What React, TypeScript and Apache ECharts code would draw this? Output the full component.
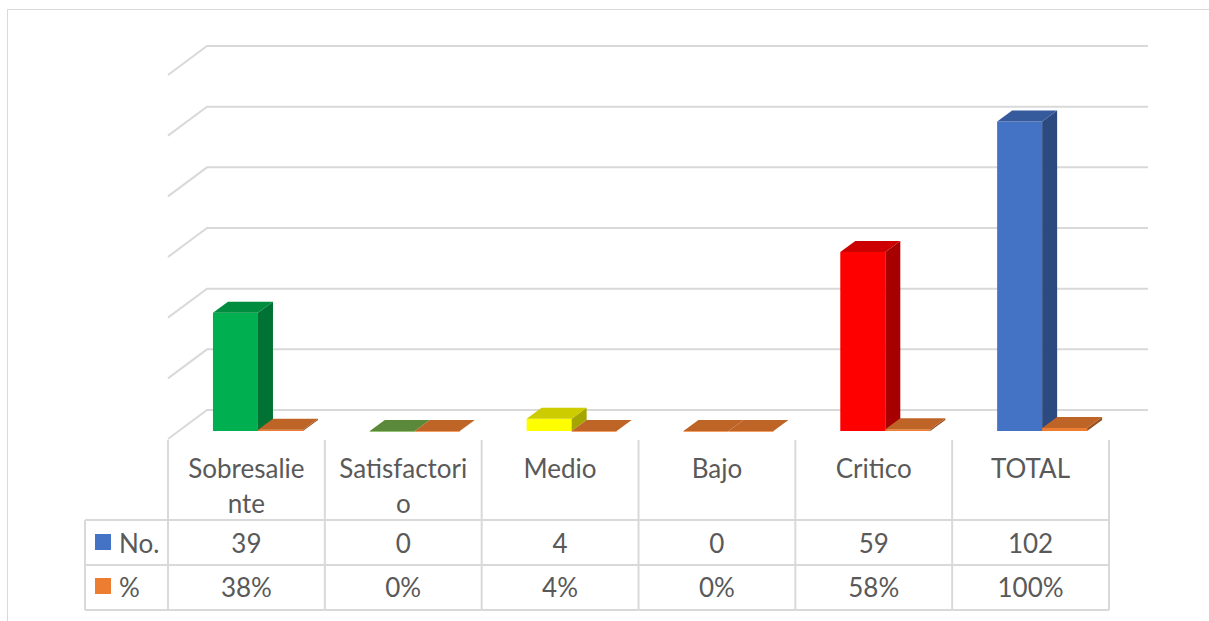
import React, { useEffect, useRef } from "react";
import * as echarts from "echarts";

const categories = ["Sobresaliente", "Satisfactorio", "Medio", "Bajo", "Critico", "TOTAL"];
const headerLabels = ["Sobresalie\nnte", "Satisfactori\no", "Medio", "Bajo", "Critico", "TOTAL"];
const countValues = [39, 0, 4, 0, 59, 102];
const pctValues = [0.38, 0, 0.04, 0, 0.58, 1.0];
const countColors = ["#00B050", "#70AD47", "#FFFF00", "#ED7D31", "#FF0000", "#4472C4"];
const pctColor = "#ED7D31";
const seriesNames = ["No.", "%"];
const legendColors = ["#4472C4", "#ED7D31"];
const yTicks = [0, 20, 40, 60, 80, 100, 120];

const GRID_COLOR = "#D9D9D9";
const TEXT_COLOR = "#595959";
const FONT = "Lato, 'Open Sans', sans-serif";
const FONT_SIZE = 26;
const DEPTH_X = 39;
const DEPTH_Y = 29;

function shade(hex: string, f: number): string {
  const n = parseInt(hex.slice(1), 16);
  const r = Math.round(((n >> 16) & 255) * f);
  const g = Math.round(((n >> 8) & 255) * f);
  const b = Math.round((n & 255) * f);
  return `rgb(${r},${g},${b})`;
}

function makeBarRender(colors: string[], slot: number) {
  return (params: any, api: any) => {
    const i = api.value(0);
    const v = api.value(1);
    const top = api.coord([i, v]);
    const base = api.coord([i, 0]);
    const band = api.size([1, 0])[0];
    const w = band * 0.287;
    const x0 = top[0] - band * 0.462 + slot * w;
    const x1 = x0 + w;
    const y0 = top[1] + 21;
    const yb = base[1] + 21;
    const dx = 15;
    const dy = -11;
    const color = colors[params.dataIndex];
    return {
      type: "group",
      children: [
        {
          type: "rect",
          shape: { x: x0, y: y0, width: w, height: Math.max(yb - y0, 0.8) },
          style: { fill: color },
        },
        {
          type: "polygon",
          shape: { points: [[x1, y0], [x1 + dx, y0 + dy], [x1 + dx, yb + dy], [x1, yb]] },
          style: { fill: shade(color, 0.65) },
        },
        {
          type: "polygon",
          shape: { points: [[x0, y0], [x0 + dx, y0 + dy], [x1 + dx, y0 + dy], [x1, y0]] },
          style: { fill: shade(color, 0.8) },
        },
      ],
    };
  };
}

const ROW_TOP = 440;
const ROW1 = 520;
const ROW2 = 565;
const ROW3 = 610;
const LEFT_X = 85;

export default function App() {
  const ref = useRef<HTMLDivElement>(null);

  useEffect(() => {
    document.body.style.margin = "0";
    if (!ref.current) return;
    const chart = echarts.init(ref.current, null, { renderer: "svg" });

    const lineStyle = { stroke: GRID_COLOR, lineWidth: 2 };

    const option: any = {
      animation: false,
      grid: { left: 207, top: 46, width: 941, height: 364 },
      xAxis: {
        type: "category",
        data: categories,
        show: false,
        boundaryGap: true,
      },
      yAxis: {
        type: "value",
        min: 0,
        max: 120,
        interval: 20,
        show: false,
        splitLine: { show: false },
      },
      graphic: [
        {
          type: "rect",
          shape: { x: 7.5, y: 9.5, width: 1260, height: 700 },
          style: { fill: "none", stroke: GRID_COLOR, lineWidth: 1 },
          silent: true,
        },
        { type: "line", shape: { x1: LEFT_X, y1: ROW1, x2: LEFT_X, y2: ROW3 }, style: lineStyle },
        { type: "line", shape: { x1: LEFT_X, y1: ROW1, x2: 168, y2: ROW1 }, style: lineStyle },
        { type: "line", shape: { x1: LEFT_X, y1: ROW2, x2: 168, y2: ROW2 }, style: lineStyle },
        { type: "line", shape: { x1: LEFT_X, y1: ROW3, x2: 168, y2: ROW3 }, style: lineStyle },
        ...seriesNames.map((name, k) => ({
          type: "group",
          children: [
            {
              type: "rect",
              shape: { x: 95, y: 534 + k * 44, width: 16, height: 16 },
              style: { fill: legendColors[k] },
            },
            {
              type: "text",
              style: {
                text: name,
                x: 119,
                y: 543 + k * 44,
                align: "left",
                verticalAlign: "middle",
                fill: TEXT_COLOR,
                fontSize: FONT_SIZE,
                fontFamily: FONT,
              },
            },
          ],
        })),
      ],
      series: [
        {
          type: "custom",
          name: "grid",
          coordinateSystem: "cartesian2d",
          silent: true,
          clip: false,
          data: yTicks.map((t) => [0, t]),
          renderItem: (params: any, api: any) => {
            const cs = params.coordSys;
            const y = api.coord([0, api.value(1)])[1];
            return {
              type: "polyline",
              shape: {
                points: [
                  [cs.x - DEPTH_X, y + DEPTH_Y],
                  [cs.x, y],
                  [cs.x + cs.width, y],
                ],
              },
              style: { stroke: GRID_COLOR, lineWidth: 2, fill: "none" },
            };
          },
        },
        {
          type: "custom",
          name: seriesNames[0],
          coordinateSystem: "cartesian2d",
          clip: false,
          data: countValues.map((v, i) => [i, v]),
          renderItem: makeBarRender(countColors, 0),
        },
        {
          type: "custom",
          name: seriesNames[1],
          coordinateSystem: "cartesian2d",
          clip: false,
          data: pctValues.map((v, i) => [i, v]),
          renderItem: makeBarRender(categories.map(() => pctColor), 1),
        },
        {
          type: "custom",
          name: "table",
          coordinateSystem: "cartesian2d",
          silent: true,
          clip: false,
          data: categories.map((_, i) => [i, 0]),
          renderItem: (params: any, api: any) => {
            const i = api.value(0);
            const band = api.size([1, 0])[0];
            const cx = api.coord([i, 0])[0] - DEPTH_X;
            const xl = cx - band / 2;
            const xr = cx + band / 2;
            const txt = (text: string, y: number, va: string, lh?: number) => ({
              type: "text",
              style: {
                text,
                x: cx,
                y,
                align: "center",
                verticalAlign: va,
                fill: TEXT_COLOR,
                fontSize: FONT_SIZE,
                fontFamily: FONT,
                lineHeight: lh,
              },
            });
            const children: any[] = [
              { type: "line", shape: { x1: xr, y1: ROW_TOP, x2: xr, y2: ROW3 }, style: lineStyle },
              { type: "line", shape: { x1: xl, y1: ROW1, x2: xr, y2: ROW1 }, style: lineStyle },
              { type: "line", shape: { x1: xl, y1: ROW2, x2: xr, y2: ROW2 }, style: lineStyle },
              { type: "line", shape: { x1: xl, y1: ROW3, x2: xr, y2: ROW3 }, style: lineStyle },
              txt(headerLabels[i], 450.5, "top", 35),
              txt(String(countValues[i]), 543, "middle"),
              txt(Math.round(pctValues[i] * 100) + "%", 587, "middle"),
            ];
            if (i === 0) {
              children.push({
                type: "line",
                shape: { x1: xl, y1: ROW_TOP, x2: xl, y2: ROW3 },
                style: lineStyle,
              });
            }
            return { type: "group", children };
          },
        },
      ],
    };

    chart.setOption(option);
    return () => {
      chart.dispose();
    };
  }, []);

  return <div ref={ref} style={{ width: 1209, height: 621 }} />;
}
